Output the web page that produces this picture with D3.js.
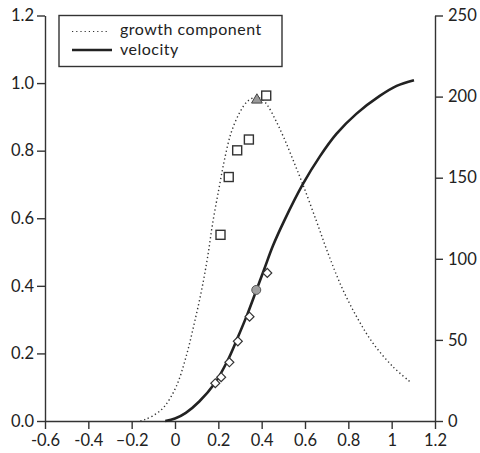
<!DOCTYPE html>
<html>
<head>
<meta charset="utf-8">
<script src="https://d3js.org/d3.v7.min.js"></script>
<style>
  body { margin: 0; background: white; }
  text { font-family: Lato, "Open Sans", sans-serif; fill: #222; }
  .axis path, .axis line { stroke: #333; stroke-width: 1.4px; }
  .axis text { font-size: 16.5px; }
</style>
</head>
<body>
<div id="chart"></div>
<script>
// growth component curve (left axis)
const growthX = [-0.16, -0.14, -0.1, -0.05, 0.005, 0.051, 0.089, 0.123, 0.151, 0.174, 0.202, 0.228, 0.259, 0.298, 0.336, 0.375, 0.405, 0.429, 0.467, 0.506, 0.544, 0.59, 0.652, 0.706, 0.768, 0.838, 0.914, 1.007, 1.085]
const growthY = [0.0, 0.004, 0.016, 0.042, 0.101, 0.19, 0.289, 0.388, 0.487, 0.586, 0.685, 0.772, 0.853, 0.912, 0.947, 0.958, 0.95, 0.932, 0.887, 0.833, 0.774, 0.70, 0.593, 0.497, 0.398, 0.309, 0.23, 0.16, 0.116]

// velocity curve (right axis)
const velocityX = [-0.045, 0.0, 0.05, 0.112, 0.182, 0.243, 0.29, 0.336, 0.375, 0.413, 0.452, 0.506, 0.59, 0.668, 0.745, 0.838, 0.945, 1.023, 1.103]
const velocityY = [0, 1.5, 5, 12, 22.9, 37.3, 51.6, 66.5, 80.4, 94, 108, 124, 146, 163, 177, 189.5, 200.4, 206.6, 210.1]

// observed points
const squareX = [0.21, 0.248, 0.287, 0.341, 0.421]
const squareY = [0.551, 0.722, 0.801, 0.833, 0.963]
const diamondX = [0.186, 0.213, 0.251, 0.29, 0.344, 0.426]
const diamondY = [23.3, 27, 36.2, 49.1, 64.3, 91.3]
const triangle = { x: 0.378, y: 0.95 }
const circle = { x: 0.375, y: 80.8 }

const xTicks = [-0.6, -0.4, -0.2, 0, 0.2, 0.4, 0.6, 0.8, 1, 1.2]
const xTickLabels = ["-0.6", "-0.4", "\u20130.2", "0", "0.2", "0.4", "0.6", "0.8", "1", "1.2"]
const leftTicks = [0, 0.2, 0.4, 0.6, 0.8, 1.0, 1.2]
const rightTicks = [0, 50, 100, 150, 200, 250]
const legendLabels = ["growth component", "velocity"]

const width = 480, height = 453
const margin = { top: 15.5, right: 45, bottom: 32, left: 45 }

const svg = d3.select("#chart").append("svg")
  .attr("width", width).attr("height", height)

const x = d3.scaleLinear().domain([-0.6, 1.2]).range([margin.left, width - margin.right])
const yL = d3.scaleLinear().domain([0, 1.2]).range([height - margin.bottom, margin.top])
const yR = d3.scaleLinear().domain([0, 250]).range([height - margin.bottom, margin.top])

// axes
svg.append("g").attr("class", "axis")
  .attr("transform", `translate(0,${height - margin.bottom})`)
  .call(d3.axisBottom(x).tickValues(xTicks).tickFormat((d, i) => xTickLabels[i]).tickSize(8).tickPadding(5).tickSizeOuter(0))

svg.append("g").attr("class", "axis")
  .attr("transform", `translate(${margin.left},0)`)
  .call(d3.axisLeft(yL).tickValues(leftTicks).tickFormat(d3.format(".1f")).tickSize(8).tickPadding(3).tickSizeOuter(0))

svg.append("g").attr("class", "axis")
  .attr("transform", `translate(${width - margin.right},0)`)
  .call(d3.axisRight(yR).tickValues(rightTicks).tickSize(8).tickPadding(5).tickSizeOuter(0))

// curves
const growthLine = d3.line().curve(d3.curveCatmullRom.alpha(0.5))
  .x((d, i) => x(growthX[i])).y((d, i) => yL(growthY[i]))
const velocityLine = d3.line().curve(d3.curveCatmullRom.alpha(0.5))
  .x((d, i) => x(velocityX[i])).y((d, i) => yR(velocityY[i]))

svg.append("path").attr("d", growthLine(growthX))
  .attr("fill", "none").attr("stroke", "#333").attr("stroke-width", 1.4)
  .attr("stroke-dasharray", "1.3 2.7")

svg.append("path").attr("d", velocityLine(velocityX))
  .attr("fill", "none").attr("stroke", "#222").attr("stroke-width", 2.6)

// markers
svg.selectAll(".sq").data(squareX).join("rect")
  .attr("x", (d) => x(d) - 4.5).attr("y", (d, i) => yL(squareY[i]) - 4.5)
  .attr("width", 9).attr("height", 9)
  .attr("fill", "white").attr("stroke", "#333").attr("stroke-width", 1.4)

const diamond = d3.symbol().type(d3.symbolSquare).size(40)
svg.selectAll(".dm").data(diamondX).join("path")
  .attr("d", diamond)
  .attr("transform", (d, i) => `translate(${x(d)},${yR(diamondY[i])}) rotate(45)`)
  .attr("fill", "white").attr("stroke", "#333").attr("stroke-width", 1.2)

svg.append("path")
  .attr("d", d3.symbol().type(d3.symbolTriangle).size(50))
  .attr("transform", `translate(${x(triangle.x)},${yL(triangle.y)})`)
  .attr("fill", "#999").attr("stroke", "#444").attr("stroke-width", 1)

svg.append("circle")
  .attr("cx", x(circle.x)).attr("cy", yR(circle.y)).attr("r", 4.5)
  .attr("fill", "#a0a0a0").attr("stroke", "#555").attr("stroke-width", 1)

// legend
const lg = svg.append("g")
lg.append("rect").attr("x", 59).attr("y", 15.5).attr("width", 223).attr("height", 51)
  .attr("fill", "white").attr("stroke", "#333").attr("stroke-width", 1.4)
lg.append("line").attr("x1", 72).attr("x2", 108).attr("y1", 31.5).attr("y2", 31.5)
  .attr("stroke", "#333").attr("stroke-width", 1.2).attr("stroke-dasharray", "1.2 3")
lg.append("line").attr("x1", 72).attr("x2", 112).attr("y1", 50).attr("y2", 50)
  .attr("stroke", "#222").attr("stroke-width", 2.6)
lg.selectAll(".lt").data(legendLabels).join("text")
  .attr("x", 120).attr("y", (d, i) => 35 + i * 20)
  .attr("font-size", 16).attr("letter-spacing", 0.5).text((d) => d)
</script>
</body>
</html>
